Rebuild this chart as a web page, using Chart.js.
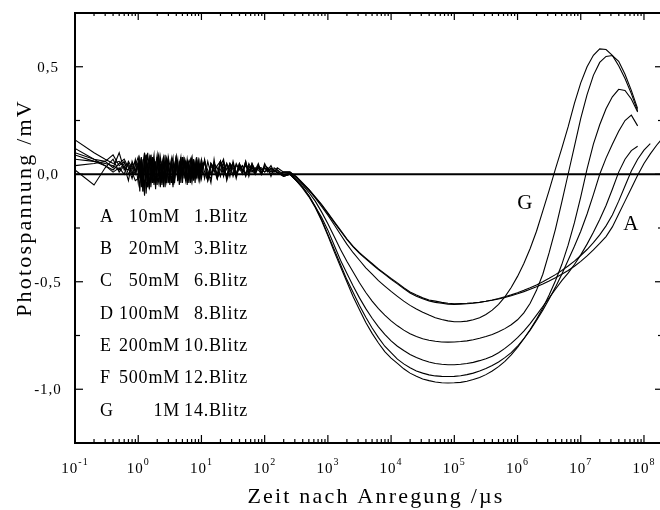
<!DOCTYPE html>
<html>
<head>
<meta charset="utf-8">
<script src="https://cdn.jsdelivr.net/npm/chart.js@4/dist/chart.umd.min.js"></script>
<style>
  html, body { margin: 0; padding: 0; background: #fff; overflow: hidden; }
  #wrap { width: 660px; height: 510px; overflow: hidden; }
</style>
</head>
<body>
<div id="wrap"><canvas id="myChart" width="666" height="510"></canvas></div>
<script>
// Messzeitpunkte: erste Punkte direkt in µs, danach als Zehnerexponent
const earlyTimes = [0.1, 0.2, 0.3, 0.4, 0.5, 0.6, 0.7, 0.8, 0.9];
const noiseExp = [
  0.000, 0.025, 0.050, 0.075, 0.100, 0.125, 0.150, 0.175, 0.200, 0.225,
  0.250, 0.275, 0.300, 0.325, 0.350, 0.375, 0.400, 0.425, 0.450, 0.475,
  0.500, 0.525, 0.550, 0.575, 0.600, 0.625, 0.650, 0.675, 0.700, 0.725,
  0.750, 0.775, 0.800, 0.825, 0.850, 0.875, 0.900, 0.925, 0.950, 0.975,
  1.000, 1.05, 1.10, 1.15, 1.20, 1.25, 1.30, 1.35, 1.40, 1.45,
  1.50, 1.55, 1.60, 1.65, 1.70, 1.75, 1.80, 1.85, 1.90, 1.95,
  2.00, 2.05, 2.10, 2.15, 2.20, 2.25, 2.30];
const decayExp = [2.4, 2.5, 2.6, 2.7, 2.8, 2.9, 3.0, 3.1, 3.2, 3.3,
  3.4, 3.5, 3.6, 3.7, 3.8, 3.9, 4.0, 4.1, 4.2, 4.3,
  4.4, 4.5, 4.6, 4.7, 4.8, 4.9, 5.0, 5.1, 5.2, 5.3,
  5.4, 5.5, 5.6, 5.7, 5.8, 5.9, 6.0, 6.1, 6.2, 6.3,
  6.4, 6.5, 6.6, 6.7, 6.8, 6.9, 7.0, 7.1, 7.2, 7.3,
  7.4, 7.5, 7.6, 7.7, 7.8, 7.9, 8.0, 8.1, 8.2, 8.3];

// Photospannung in mV, je Kurve: fruehe Punkte, Rauschen, Abfall und Anstieg
const curveA = [0.16, 0.10, 0.07, 0.05, 0.06, 0.03, 0.02, 0.05, 0.01,
  0.06, -0.02, 0.08, -0.05, 0.04, 0.09, -0.06, 0.03, 0.07, -0.04,
  0.05, -0.07, 0.08, 0.01, -0.05, 0.06, -0.02, 0.09, -0.04, 0.05,
  0.00, 0.07, -0.05, 0.04, 0.08, -0.03, 0.06, -0.04, 0.07, 0.01,
  -0.03, 0.06, -0.02, 0.05, 0.08, -0.03, 0.04, -0.01, 0.06, 0.00,
  0.05, -0.02, 0.06, 0.00, 0.05, -0.01, 0.06, 0.01, 0.05, -0.01,
  0.06, 0.00, 0.05, 0.01, 0.06, 0.00, 0.05, 0.01, 0.04, 0.00,
  0.05, 0.02, 0.04, 0.01, 0.03, 0.02, 0.01,
  0.01, -0.01, -0.04, -0.07, -0.105, -0.14, -0.18, -0.22, -0.26, -0.30,
  -0.335, -0.365, -0.39, -0.415, -0.44, -0.462, -0.485, -0.505, -0.528, -0.548,
  -0.562, -0.575, -0.585, -0.59, -0.596, -0.60, -0.602, -0.601, -0.60, -0.598,
  -0.595, -0.591, -0.586, -0.58, -0.573, -0.565, -0.556, -0.546, -0.535, -0.523,
  -0.51, -0.496, -0.481, -0.465, -0.448, -0.428, -0.405, -0.38, -0.352, -0.322,
  -0.29, -0.245, -0.185, -0.125, -0.065, -0.005, 0.05, 0.095, 0.135, 0.17];
const curveB = [0.10, 0.07, 0.06, 0.09, 0.04, 0.06, 0.00, 0.03, 0.06,
  -0.04, 0.07, 0.02, -0.08, 0.10, -0.03, 0.05, 0.08, -0.06, 0.04,
  0.09, -0.04, 0.02, 0.07, -0.06, 0.05, 0.08, -0.03, 0.03, 0.07,
  -0.05, 0.06, 0.02, -0.04, 0.07, 0.03, -0.03, 0.08, -0.01, 0.05,
  0.06, -0.04, 0.05, 0.02, -0.03, 0.07, 0.00, 0.04, -0.02, 0.06,
  0.02, 0.06, -0.02, 0.05, 0.01, 0.04, 0.06, -0.01, 0.05, 0.02,
  0.00, 0.05, 0.02, 0.04, 0.00, 0.05, 0.02, 0.00, 0.04, 0.02,
  0.03, 0.01, 0.03, 0.015, 0.02, 0.005, 0.01,
  0.01, -0.012, -0.042, -0.072, -0.107, -0.143, -0.183, -0.224, -0.264, -0.303,
  -0.338, -0.368, -0.394, -0.419, -0.443, -0.466, -0.489, -0.51, -0.532, -0.552,
  -0.567, -0.579, -0.589, -0.596, -0.60, -0.604, -0.605, -0.604, -0.602, -0.60,
  -0.596, -0.591, -0.585, -0.578, -0.57, -0.561, -0.551, -0.54, -0.528, -0.515,
  -0.50, -0.484, -0.467, -0.448, -0.427, -0.404, -0.378, -0.35, -0.318, -0.282,
  -0.24, -0.19, -0.125, -0.055, 0.015, 0.07, 0.112, 0.142, null, null];
const curveC = [0.07, 0.06, 0.04, 0.02, 0.05, 0.07, 0.03, -0.02, 0.04,
  0.08, 0.02, -0.06, 0.05, 0.10, -0.09, 0.03, 0.07, -0.04, 0.08,
  0.01, -0.05, 0.06, 0.09, -0.03, 0.02, 0.08, -0.06, 0.04, 0.07,
  -0.03, 0.05, 0.08, -0.02, 0.03, 0.07, -0.05, 0.05, 0.02, 0.08,
  -0.03, 0.04, 0.06, -0.02, 0.05, 0.03, -0.04, 0.07, 0.01, 0.04,
  -0.02, 0.07, 0.00, -0.02, 0.05, 0.03, -0.01, 0.06, 0.02, 0.05,
  -0.01, 0.04, 0.03, 0.00, 0.05, 0.02, 0.03, 0.01, 0.04, 0.02,
  0.01, 0.03, 0.01, 0.02, 0.005, 0.00, -0.005,
  0.00, -0.03, -0.06, -0.10, -0.15, -0.20, -0.26, -0.33, -0.40, -0.46,
  -0.52, -0.575, -0.625, -0.67, -0.71, -0.745, -0.775, -0.80, -0.82, -0.838,
  -0.852, -0.864, -0.873, -0.88, -0.884, -0.886, -0.886, -0.884, -0.88, -0.875,
  -0.867, -0.858, -0.846, -0.83, -0.81, -0.787, -0.76, -0.73, -0.695, -0.655,
  -0.615, -0.575, -0.535, -0.495, -0.46, -0.42, -0.375, -0.325, -0.27, -0.21,
  -0.145, -0.07, 0.01, 0.07, 0.11, 0.13, null, null, null, null];
const curveD = [0.04, 0.05, 0.06, 0.03, 0.10, 0.02, 0.05, 0.01, -0.03,
  -0.02, 0.07, 0.03, -0.08, 0.05, 0.08, -0.03, -0.06, 0.09, 0.02,
  -0.05, 0.06, 0.00, -0.04, 0.08, 0.03, -0.05, 0.05, 0.07, -0.03,
  0.00, 0.06, -0.06, 0.04, 0.08, -0.02, 0.02, 0.06, -0.04, 0.07,
  0.03, -0.02, 0.05, 0.07, -0.03, 0.02, 0.06, -0.02, 0.05, 0.01,
  0.07, 0.01, -0.03, 0.05, 0.02, -0.02, 0.06, 0.03, -0.01, 0.05,
  0.02, -0.01, 0.04, 0.02, 0.00, 0.04, 0.01, 0.03, 0.02, 0.00,
  0.03, 0.02, 0.00, 0.02, 0.01, 0.00, -0.01,
  0.00, -0.03, -0.06, -0.10, -0.15, -0.21, -0.28, -0.35, -0.42, -0.49,
  -0.55, -0.61, -0.665, -0.715, -0.76, -0.80, -0.83, -0.86, -0.882, -0.90,
  -0.915, -0.925, -0.933, -0.938, -0.94, -0.941, -0.94, -0.937, -0.932, -0.925,
  -0.915, -0.904, -0.89, -0.873, -0.853, -0.83, -0.80, -0.765, -0.725, -0.68,
  -0.632, -0.58, -0.525, -0.465, -0.40, -0.335, -0.265, -0.185, -0.095, 0.00,
  0.075, 0.14, 0.20, 0.25, 0.275, 0.225, null, null, null, null];
const curveE = [0.02, -0.05, 0.03, 0.07, 0.01, 0.04, -0.03, 0.06, 0.02,
  0.04, -0.08, 0.06, 0.01, -0.10, 0.07, 0.04, -0.07, 0.05, -0.01,
  0.07, -0.05, 0.03, 0.08, -0.02, 0.05, -0.06, 0.03, 0.07, -0.04,
  0.02, 0.06, -0.04, 0.03, 0.07, -0.03, 0.05, 0.00, 0.08, -0.02,
  0.04, 0.06, -0.04, 0.03, 0.00, 0.07, -0.02, 0.05, 0.02, -0.03,
  0.03, 0.06, -0.03, 0.03, 0.05, -0.02, 0.02, 0.05, -0.02, 0.03,
  0.05, 0.00, 0.03, 0.04, -0.01, 0.03, 0.04, 0.00, 0.03, 0.03,
  0.01, 0.02, 0.02, 0.00, 0.01, 0.00, -0.01,
  0.00, -0.03, -0.065, -0.105, -0.155, -0.215, -0.285, -0.36, -0.43, -0.50,
  -0.57, -0.63, -0.69, -0.74, -0.785, -0.825, -0.855, -0.88, -0.905, -0.925,
  -0.94, -0.952, -0.96, -0.966, -0.97, -0.971, -0.97, -0.968, -0.963, -0.955,
  -0.945, -0.932, -0.915, -0.895, -0.87, -0.84, -0.805, -0.765, -0.722, -0.675,
  -0.622, -0.562, -0.495, -0.42, -0.33, -0.225, -0.105, 0.025, 0.14, 0.23,
  0.305, 0.36, 0.395, 0.39, 0.35, 0.29, null, null, null, null];
const curveF = [0.09, 0.06, 0.05, 0.04, 0.02, 0.05, 0.04, 0.00, 0.07,
  0.01, 0.05, -0.04, 0.07, -0.07, 0.03, 0.10, -0.04, 0.00, 0.07,
  -0.04, 0.04, 0.09, -0.02, 0.05, -0.05, 0.06, 0.02, -0.03, 0.08,
  0.04, -0.04, 0.05, 0.01, 0.07, -0.03, 0.04, 0.08, -0.01, 0.03,
  0.06, -0.05, 0.04, 0.02, 0.07, -0.02, 0.05, 0.01, 0.06, -0.02,
  0.04, 0.05, 0.02, -0.04, 0.07, -0.02, 0.04, 0.07, -0.03, 0.02,
  0.05, -0.02, 0.04, 0.01, 0.06, -0.01, 0.04, 0.02, 0.05, 0.00,
  0.04, 0.03, -0.01, 0.03, 0.02, 0.01, 0.00,
  0.005, -0.022, -0.05, -0.085, -0.125, -0.175, -0.23, -0.29, -0.35, -0.405,
  -0.455, -0.505, -0.55, -0.59, -0.625, -0.655, -0.682, -0.705, -0.725, -0.742,
  -0.755, -0.765, -0.772, -0.777, -0.78, -0.781, -0.78, -0.778, -0.775, -0.77,
  -0.763, -0.755, -0.745, -0.733, -0.718, -0.70, -0.677, -0.645, -0.60, -0.54,
  -0.465, -0.365, -0.255, -0.13, 0.00, 0.13, 0.26, 0.37, 0.46, 0.52,
  0.548, 0.552, 0.525, 0.465, 0.39, 0.305, null, null, null, null];
const curveG = [0.12, 0.07, 0.04, 0.01, 0.03, 0.00, 0.06, 0.03, 0.00,
  0.05, 0.00, 0.07, -0.05, 0.02, 0.09, -0.06, 0.05, 0.08, -0.03,
  0.06, 0.02, -0.05, 0.07, 0.04, -0.04, 0.05, -0.01, 0.07, 0.03,
  -0.04, 0.07, 0.02, -0.03, 0.06, 0.04, -0.02, 0.06, 0.01, 0.05,
  -0.01, 0.07, 0.02, -0.04, 0.06, 0.03, 0.00, 0.08, -0.02, 0.04,
  0.01, 0.06, -0.02, 0.05, 0.03, 0.00, 0.06, 0.02, -0.01, 0.05,
  0.03, 0.00, 0.05, 0.02, 0.04, 0.01, 0.05, 0.02, 0.03, 0.01,
  0.03, 0.02, 0.025, 0.015, 0.01, 0.00, 0.01,
  0.01, -0.015, -0.045, -0.075, -0.11, -0.15, -0.19, -0.235, -0.28, -0.325,
  -0.365, -0.40, -0.435, -0.465, -0.495, -0.52, -0.545, -0.568, -0.59, -0.61,
  -0.627, -0.642, -0.655, -0.667, -0.676, -0.682, -0.686, -0.686, -0.683, -0.677,
  -0.667, -0.652, -0.632, -0.605, -0.57, -0.527, -0.475, -0.415, -0.345, -0.265,
  -0.17, -0.075, 0.025, 0.12, 0.22, 0.33, 0.425, 0.50, 0.553, 0.583,
  0.58, 0.553, 0.505, 0.445, 0.375, 0.295, null, null, null, null];

const curves = [curveA, curveB, curveC, curveD, curveE, curveF, curveG];
const letters = ['A', 'B', 'C', 'D', 'E', 'F', 'G'];
const concentrations = ['10mM', '20mM', '50mM', '100mM', '200mM', '500mM', '1M'];
const flashes = ['1.Blitz', '3.Blitz', '6.Blitz', '8.Blitz', '10.Blitz', '12.Blitz', '14.Blitz'];

// Achsen
const xDecades = [-1, 0, 1, 2, 3, 4, 5, 6, 7, 8];
const yMajor = [-1.0, -0.5, 0.0, 0.5];
const yMinor = [-0.75, -0.25, 0.25];
const xMin = 0.1, xMax = 2e8, yMin = -1.25, yMax = 0.75;

const times = [...earlyTimes, ...noiseExp.map(e => 10 ** e), ...decayExp.map(e => 10 ** e)];

const datasets = curves.map((vals, i) => ({
  label: letters[i] + ' ' + concentrations[i] + ' ' + flashes[i],
  data: times.map((t, j) => ({x: t, y: vals[j]})),
  borderColor: '#000',
  borderWidth: 1.1,
  pointRadius: 0,
  tension: 0,
  fill: false
}));

const SERIF = '"Liberation Serif", "Times New Roman", serif';

const framePlugin = {
  id: 'frame',
  beforeDatasetsDraw(chart) {
    const {ctx, chartArea: a, scales: {y}} = chart;
    ctx.save();
    ctx.fillStyle = '#000';
    ctx.fillRect(a.left, y.getPixelForValue(0) - 1, a.right - a.left, 2);
    ctx.restore();
  },
  afterDraw(chart) {
    const {ctx, chartArea: a, scales: {x, y}} = chart;
    ctx.save();
    ctx.strokeStyle = '#000';
    ctx.fillStyle = '#000';

    // Rahmen
    ctx.lineWidth = 2;
    ctx.strokeRect(a.left, a.top, a.right - a.left, a.bottom - a.top);

    // x-Ticks nach innen, unten und oben
    xDecades.forEach(k => {
      for (let m = 1; m <= 9; m++) {
        const v = m * 10 ** k;
        if (v < xMin || v > xMax) continue;
        const px = x.getPixelForValue(v) - 0.6;
        const major = m === 1;
        ctx.fillRect(px, a.bottom - (major ? 8 : 4), 1.2, major ? 8 : 4);
        ctx.fillRect(px, a.top, 1.2, major ? 7 : 3);
      }
    });
    // y-Ticks nach innen, links und rechts
    yMajor.forEach(v => {
      const py = y.getPixelForValue(v) - 0.6;
      ctx.fillRect(a.left, py, 8, 1.2);
      ctx.fillRect(a.right - 8, py, 8, 1.2);
    });
    yMinor.forEach(v => {
      const py = y.getPixelForValue(v) - 0.6;
      ctx.fillRect(a.left, py, 5, 1.2);
      ctx.fillRect(a.right - 5, py, 5, 1.2);
    });

    if ('letterSpacing' in ctx) ctx.letterSpacing = '1px';

    // x-Beschriftung 10^n
    ctx.textBaseline = 'alphabetic';
    ctx.textAlign = 'left';
    xDecades.forEach(k => {
      const px = x.getPixelForValue(10 ** k);
      const exp = k < 0 ? '-' + (-k) : String(k);
      ctx.font = '15px ' + SERIF;
      const wb = ctx.measureText('10').width;
      ctx.font = '10px ' + SERIF;
      const we = ctx.measureText(exp).width;
      const x0 = px - (wb + we) / 2;
      ctx.font = '15px ' + SERIF;
      ctx.fillText('10', x0, 473);
      ctx.font = '10px ' + SERIF;
      ctx.fillText(exp, x0 + wb, 465);
    });

    // y-Beschriftung mit Dezimalkomma
    ctx.font = '15px ' + SERIF;
    ctx.textAlign = 'center';
    ctx.textBaseline = 'middle';
    yMajor.forEach(v => {
      ctx.fillText(v.toFixed(1).replace('.', ','), 48, y.getPixelForValue(v) + 1);
    });

    // Legende als Texttabelle
    ctx.font = '18px ' + SERIF;
    if ('letterSpacing' in ctx) ctx.letterSpacing = '0.8px';
    letters.forEach((l, i) => {
      const py = 217 + i * 32.3;
      ctx.textAlign = 'left';
      ctx.fillText(l, a.left + 25, py);
      ctx.textAlign = 'right';
      ctx.fillText(concentrations[i], a.left + 105, py);
      ctx.fillText(flashes[i], a.left + 173, py);
    });

    // Kurvenmarken
    ctx.font = '21px ' + SERIF;
    ctx.textAlign = 'center';
    ctx.fillText('G', x.getPixelForValue(10 ** 6.12), y.getPixelForValue(-0.138));
    ctx.fillText('A', x.getPixelForValue(10 ** 7.8), y.getPixelForValue(-0.232));

    // Achsentitel
    if ('letterSpacing' in ctx) ctx.letterSpacing = '2.2px';
    ctx.font = '22px ' + SERIF;
    ctx.textAlign = 'center';
    ctx.textBaseline = 'alphabetic';
    ctx.fillText('Zeit nach Anregung /\u00b5s', 376, 503);
    ctx.translate(31, 208);
    ctx.rotate(-Math.PI / 2);
    ctx.fillText('Photospannung /mV', 0, 0);
    ctx.restore();
  }
};

new Chart('myChart', {
  type: 'line',
  data: {datasets},
  options: {
    responsive: false,
    animation: false,
    devicePixelRatio: 1,
    layout: {padding: {left: 75, top: 13, right: 3, bottom: 67}},
    plugins: {legend: {display: false}, tooltip: {enabled: false}},
    scales: {
      x: {type: 'logarithmic', min: xMin, max: xMax, display: false},
      y: {type: 'linear', min: yMin, max: yMax, display: false}
    }
  },
  plugins: [framePlugin]
});
</script>
</body>
</html>
